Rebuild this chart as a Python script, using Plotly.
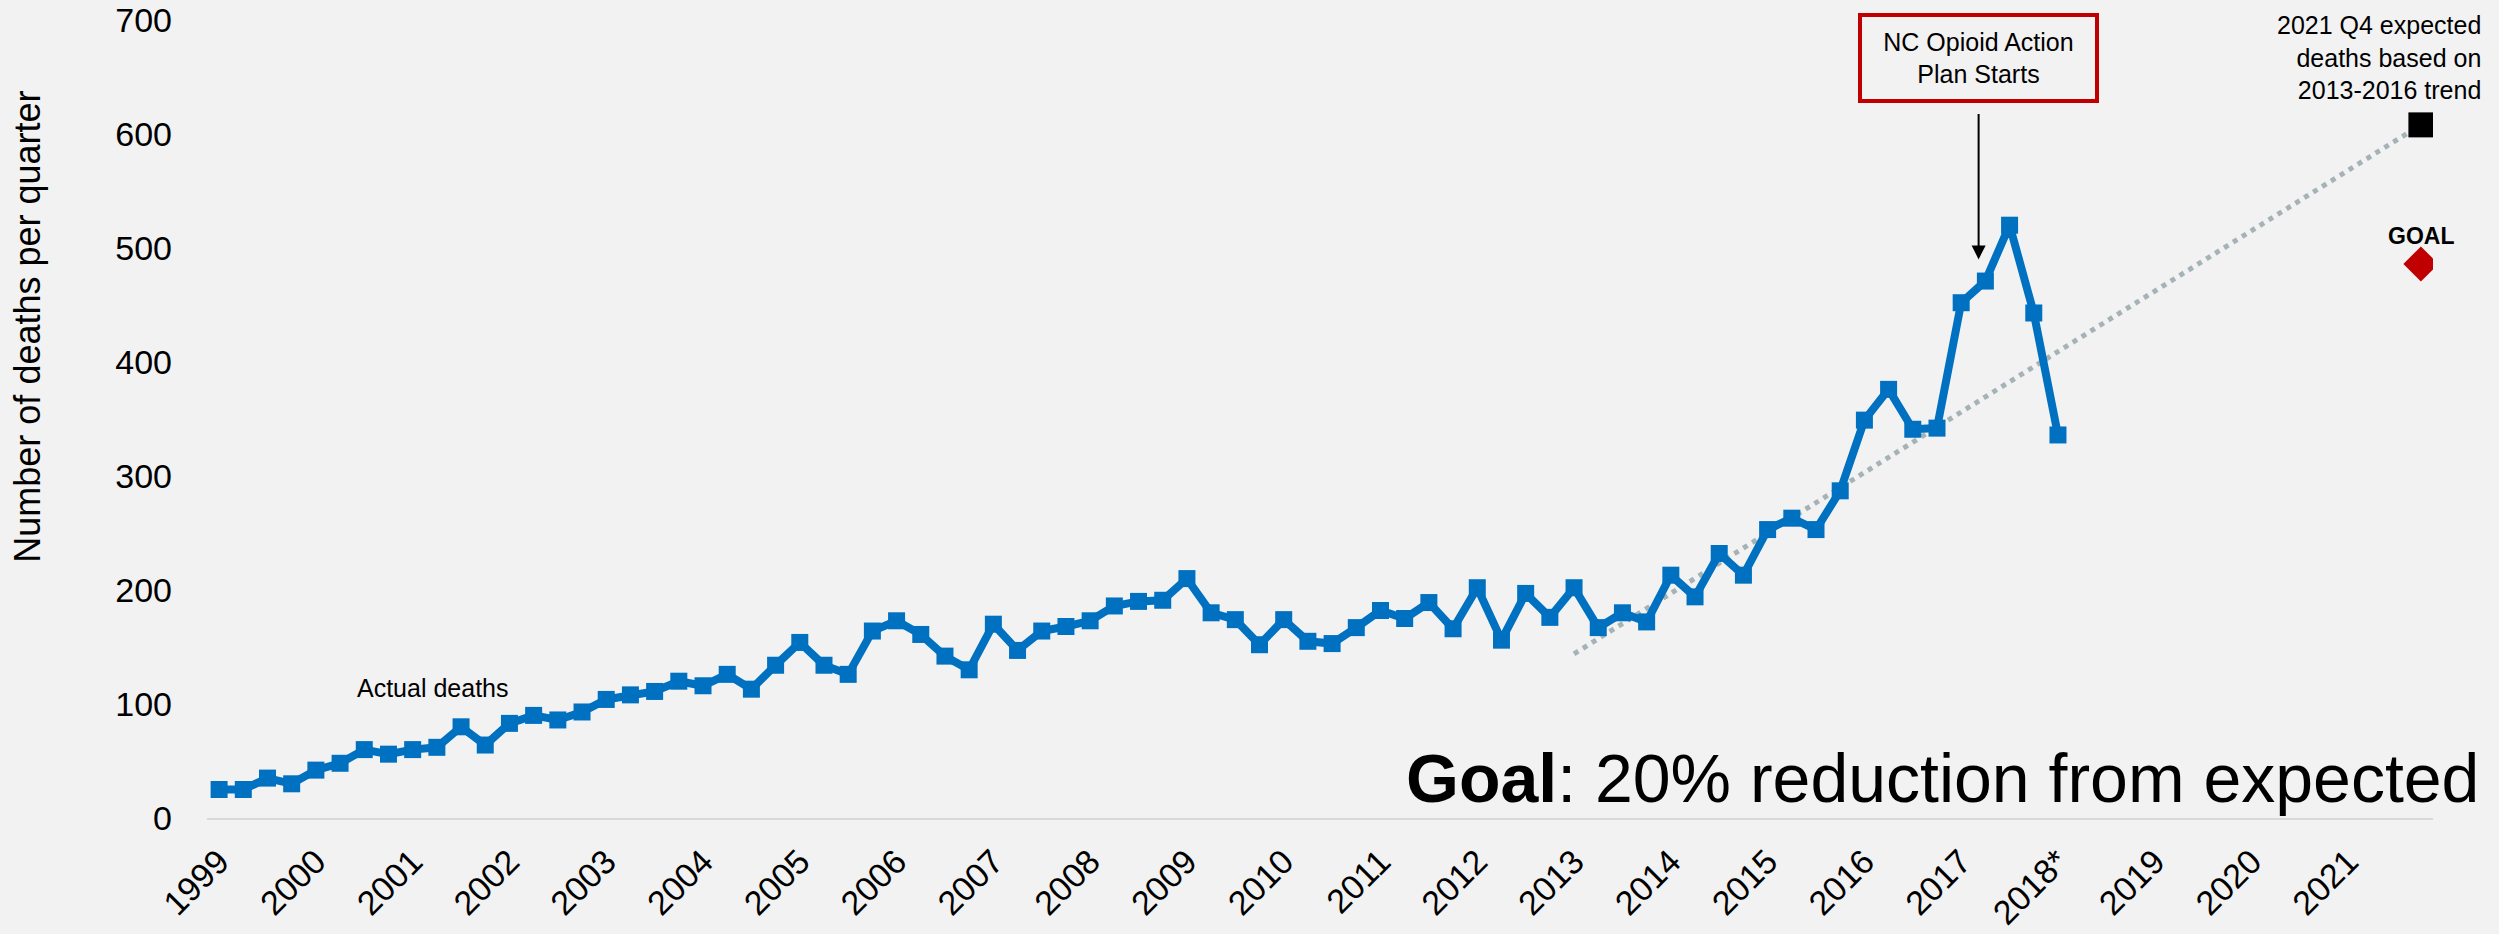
import plotly.graph_objects as go

# -- Datos ------------------------------------------------------------------
start_year = 1999
deaths = [25, 25, 35, 30, 42, 48, 60, 56, 60, 62, 80, 64, 83, 90, 86, 93,
          104, 108, 111, 120, 116, 126, 113, 134, 154, 134, 126, 164, 173, 161, 142, 130,
          170, 147, 164, 168, 173, 186, 190, 191, 210, 180, 174, 152, 174, 155, 153, 167,
          182, 175, 189, 166, 202, 156, 197, 176, 202, 167, 180, 172, 213, 194, 232, 213,
          253, 263, 253, 287, 349, 376, 341, 342, 452, 471, 520, 443, 336]

trend_x = [2013.0, 2021.75]
trend_y = [144, 608]

expected_x = [2021.75]
expected_y = [608]
goal_x = [2021.75]
goal_y = [486]

tick_years = list(range(1999, 2022))
tick_text = [str(a) if a != 2018 else "2018*" for a in tick_years]
y_ticks = [0, 100, 200, 300, 400, 500, 600, 700]

x_deaths = [start_year + i / 4 for i in range(len(deaths))]

FONT = "Liberation Sans, Arial, sans-serif"
BG = "#F2F2F2"

fig = go.Figure()

# tendencia 2013-2016
fig.add_trace(go.Scatter(
    x=trend_x, y=trend_y, mode="lines",
    line=dict(color="#A5B3B6", width=5, dash="5px,5.5px"),
    hoverinfo="skip", showlegend=False
))

# muertes reales
fig.add_trace(go.Scatter(
    x=x_deaths, y=deaths, mode="lines+markers",
    line=dict(color="#0070C0", width=8),
    marker=dict(symbol="square", size=17, color="#0070C0"),
    showlegend=False
))

# esperado 2021 Q4
fig.add_trace(go.Scatter(
    x=expected_x, y=expected_y, mode="markers",
    marker=dict(symbol="square", size=25, color="black"),
    showlegend=False
))

# meta
fig.add_trace(go.Scatter(
    x=goal_x, y=goal_y, mode="markers",
    marker=dict(symbol="diamond", size=27, color="#C00000"),
    showlegend=False
))

# -- Anotaciones ------------------------------------------------------------
fig.add_annotation(
    text="Number of deaths per quarter", textangle=-90,
    xref="paper", yref="y", x=-0.0804, y=431, xanchor="center",
    showarrow=False, font=dict(size=36, color="black", family=FONT)
)
fig.add_annotation(
    text="Actual deaths", x=2001.21, y=114, showarrow=False,
    font=dict(size=25, color="black", family=FONT)
)
fig.add_annotation(
    text="<b>Goal</b>: 20% reduction from expected",
    xref="paper", yref="paper", x=1.0216, y=0.05,
    xanchor="right", yanchor="middle", showarrow=False,
    font=dict(size=68, color="black", family=FONT)
)
fig.add_annotation(
    text="<b>GOAL</b>", x=goal_x[0], y=goal_y[0], yshift=28,
    showarrow=False, font=dict(size=23, color="black", family=FONT)
)
fig.add_annotation(
    text="2021 Q4 expected<br>deaths based on<br>2013-2016 trend",
    xref="paper", x=1.0225, y=667, xanchor="right", align="right",
    showarrow=False, font=dict(size=25, color="black", family=FONT)
)
fig.add_annotation(
    text="NC Opioid Action<br>Plan Starts", x=2017.18, y=667,
    showarrow=False, width=225, height=74, borderpad=4,
    bordercolor="#C00000", borderwidth=4, bgcolor=BG,
    font=dict(size=25, color="black", family=FONT)
)
fig.add_annotation(
    x=2017.18, y=490, ax=0, ay=-147, text="",
    showarrow=True, arrowhead=2, arrowsize=1.4, arrowwidth=2, arrowcolor="black"
)

fig.update_layout(
    width=2499, height=934, autosize=False,
    margin=dict(l=207, r=66, t=20, b=116),
    paper_bgcolor=BG, plot_bgcolor=BG,
    font=dict(family=FONT, color="black"),
    xaxis=dict(
        range=[1998.875, 2021.875], tickvals=tick_years, ticktext=tick_text,
        tickangle=-45, tickfont=dict(size=34), ticks="", ticklabelstandoff=8,
        showgrid=False, zeroline=False, automargin=False,
        showline=True, linecolor="#D9D9D9", linewidth=2
    ),
    yaxis=dict(
        range=[0, 700], tickvals=y_ticks, tickfont=dict(size=34),
        ticks="", ticklabelstandoff=34, automargin=False,
        ticklabeloverflow="allow",
        showgrid=False, zeroline=False, showline=False
    )
)

# sin el margen por defecto del body, el gráfico ocupa toda la ventana
fig.write_html("out.html", config={"displayModeBar": False},
               post_script="document.body.style.margin='0';")
